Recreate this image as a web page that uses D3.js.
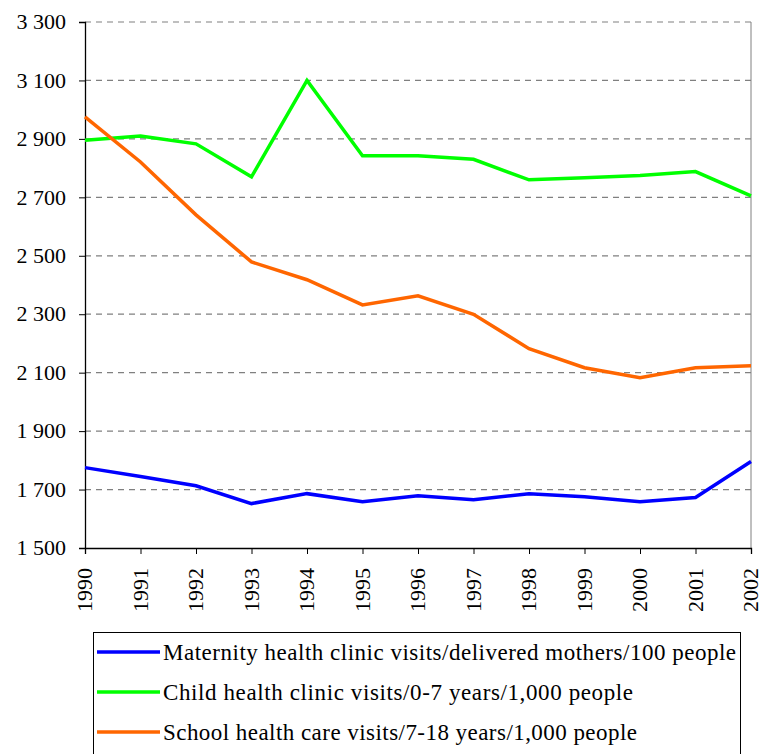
<!DOCTYPE html>
<html><head><meta charset="utf-8">
<script src="https://cdn.jsdelivr.net/npm/d3@7"></script>
</head><body>
<script>
const years = [1990,1991,1992,1993,1994,1995,1996,1997,1998,1999,2000,2001,2002];
const maternity = [1775,1745,1713,1652,1686,1658,1679,1665,1686,1675,1658,1673,1796];
const child = [2895,2910,2883,2770,3100,2842,2842,2830,2760,2767,2775,2788,2705];
const school = [2975,2821,2640,2479,2418,2332,2363,2300,2182,2117,2083,2117,2124];
const yTicks = [1500,1700,1900,2100,2300,2500,2700,2900,3100,3300];
const seriesNames = ["Maternity health clinic visits/delivered mothers/100 people","Child health clinic visits/0-7 years/1,000 people","School health care visits/7-18 years/1,000 people"];
const seriesColors = ["#0000ff","#00ff00","#ff6600"];
const seriesData = [maternity, child, school];
const legendWidths = [573, 470, 474];

d3.select("body").style("margin","0px");
const W=759,H=754;
const svg=d3.select("body").append("svg").attr("width",W).attr("height",H).style("display","block");
const L=85,R=751,T=22,B=548;
const x=d3.scalePoint().domain(years).range([L,R]);
const y=d3.scaleLinear().domain([1500,3300]).range([B,T]);
const fmt=v=>d3.format(",")(v).replace(",", " ");

// gridlines
svg.append("g").selectAll("line").data(yTicks.filter(v=>v>1500)).join("line")
  .attr("x1",L).attr("x2",R).attr("y1",d=>y(d)).attr("y2",d=>y(d))
  .attr("stroke","#808080").attr("stroke-width",1.2).attr("stroke-dasharray","6,5");
// right border
svg.append("line").attr("x1",R).attr("x2",R).attr("y1",T).attr("y2",B).attr("stroke","#808080").attr("stroke-width",1);

// axes: ticks/domain via d3 axes, labels drawn as plain text from the same scales
const ya=svg.append("g").attr("transform",`translate(${L},0)`)
  .call(d3.axisLeft(y).tickValues(yTicks).tickSize(6).tickFormat(""));
ya.select(".domain").attr("stroke","#000").attr("stroke-width",1.3);
ya.selectAll(".tick line").attr("stroke","#000");
const xa=svg.append("g").attr("transform",`translate(0,${B})`)
  .call(d3.axisBottom(x).tickSize(6).tickFormat(""));
xa.select(".domain").attr("stroke","#000").attr("stroke-width",1.3);
xa.selectAll(".tick line").attr("stroke","#000");

svg.selectAll("text.yl").data(yTicks).join("text").attr("class","yl")
  .attr("x",L-19).attr("y",d=>y(d)).attr("dy","0.33em").attr("text-anchor","end")
  .attr("font-size",22).style("font-family",'"Times New Roman"').attr("fill","#000").text(fmt);
svg.selectAll("text.xl").data(years).join("text").attr("class","xl")
  .attr("transform",d=>`translate(${x(d)},${B+20}) rotate(-90)`).attr("dy","0.34em").attr("text-anchor","end")
  .attr("font-size",22).style("font-family",'"Times New Roman"').attr("fill","#000").text(d=>d);

// lines
const line=d3.line().x((d,i)=>x(years[i])).y(d=>y(d));
svg.append("g").selectAll("path").data(seriesData).join("path")
  .attr("d",line).attr("fill","none").attr("stroke",(d,i)=>seriesColors[i]).attr("stroke-width",3.5)
  .attr("stroke-linejoin","miter");

// legend
svg.append("rect").attr("x",93.5).attr("y",632.5).attr("width",647).attr("height",140).attr("fill","#fff").attr("stroke","#000").attr("stroke-width",1);
svg.selectAll("line.lk").data(seriesNames).join("line").attr("class","lk")
  .attr("x1",97).attr("x2",160).attr("y1",(d,i)=>652+i*40).attr("y2",(d,i)=>652+i*40)
  .attr("stroke",(d,i)=>seriesColors[i]).attr("stroke-width",3.5);
svg.selectAll("text.lt").data(seriesNames).join("text").attr("class","lt")
  .attr("x",163).attr("y",(d,i)=>660+i*40).attr("font-size",23).style("font-family",'"Times New Roman"')
  .attr("textLength",(d,i)=>legendWidths[i]).attr("lengthAdjust","spacing").text(d=>d);
</script>
</body></html>
